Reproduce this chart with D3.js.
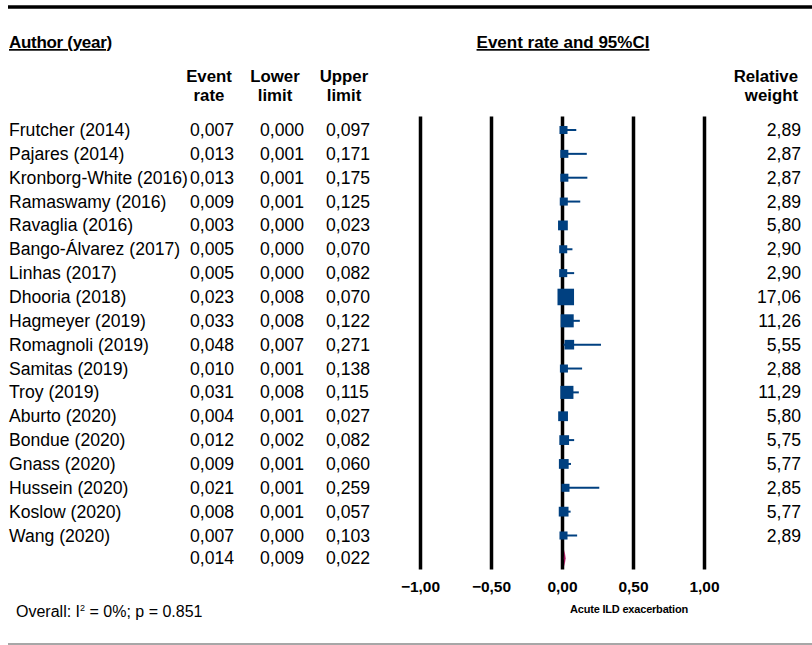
<!DOCTYPE html>
<html>
<head>
<meta charset="utf-8">
<script src="https://cdn.jsdelivr.net/npm/d3@7"></script>
<style>
  body { margin: 0; background: #fff; }
  text { font-family: "Liberation Sans", Arial, sans-serif; fill: #000; }
</style>
</head>
<body>
<div id="forest"></div>
<script>
// study rows
var authors = ["Frutcher (2014)", "Pajares (2014)", "Kronborg-White (2016)", "Ramaswamy (2016)",
  "Ravaglia (2016)", "Bango-Álvarez (2017)", "Linhas (2017)", "Dhooria (2018)", "Hagmeyer (2019)",
  "Romagnoli (2019)", "Samitas (2019)", "Troy (2019)", "Aburto (2020)", "Bondue (2020)",
  "Gnass (2020)", "Hussein (2020)", "Koslow (2020)", "Wang (2020)"];
var eventRate = [0.007, 0.013, 0.013, 0.009, 0.003, 0.005, 0.005, 0.023, 0.033, 0.048, 0.010, 0.031,
  0.004, 0.012, 0.009, 0.021, 0.008, 0.007];
var lowerLimit = [0.000, 0.001, 0.001, 0.001, 0.000, 0.000, 0.000, 0.008, 0.008, 0.007, 0.001, 0.008,
  0.001, 0.002, 0.001, 0.001, 0.001, 0.000];
var upperLimit = [0.097, 0.171, 0.175, 0.125, 0.023, 0.070, 0.082, 0.070, 0.122, 0.271, 0.138, 0.115,
  0.027, 0.082, 0.060, 0.259, 0.057, 0.103];
var relWeight = [2.89, 2.87, 2.87, 2.89, 5.80, 2.90, 2.90, 17.06, 11.26, 5.55, 2.88, 11.29,
  5.80, 5.75, 5.77, 2.85, 5.77, 2.89];
// pooled estimate
var overall = {rate: 0.014, lower: 0.009, upper: 0.022};
var ticks = [-1, -0.5, 0, 0.5, 1];

var width = 812, height = 645;
var fmt3 = function(v) { return d3.format(".3f")(v).replace(".", ","); };
var fmt2 = function(v) { return d3.format(".2f")(v).replace(".", ","); };

var svg = d3.select("#forest").append("svg").attr("width", width).attr("height", height);

var x = d3.scaleLinear().domain([-1, 1]).range([420.5, 704.5]);
var y = d3.scaleLinear().domain([0, 17]).range([130, 535.5]);
var side = d3.scaleLinear().domain([0, 20]).range([6.3, 18.3]);

// frame lines
svg.append("line").attr("x1", 8).attr("x2", 812).attr("y1", 7).attr("y2", 7)
  .attr("stroke", "#000").attr("stroke-width", 3.5);
svg.append("line").attr("x1", 8).attr("x2", 812).attr("y1", 644).attr("y2", 644)
  .attr("stroke", "#8a8a8a").attr("stroke-width", 1.5);

// titles
svg.append("text").attr("x", 9).attr("y", 48).attr("font-size", 17).attr("font-weight", "bold")
  .attr("text-decoration", "underline").attr("letter-spacing", -0.3).text("Author (year)");
svg.append("text").attr("x", 563).attr("y", 48).attr("text-anchor", "middle").attr("font-size", 17)
  .attr("font-weight", "bold").attr("text-decoration", "underline").text("Event rate and 95%CI");

var heads = [[209, "Event", "rate"], [275, "Lower", "limit"], [344, "Upper", "limit"]];
heads.forEach(function(h) {
  var t = svg.append("text").attr("text-anchor", "middle").attr("font-size", 16.8).attr("font-weight", "bold");
  t.append("tspan").attr("x", h[0]).attr("y", 82).text(h[1]);
  t.append("tspan").attr("x", h[0]).attr("y", 101).text(h[2]);
});
var rw = svg.append("text").attr("text-anchor", "end").attr("font-size", 16.8).attr("font-weight", "bold");
rw.append("tspan").attr("x", 798).attr("y", 82).text("Relative");
rw.append("tspan").attr("x", 798).attr("y", 101).text("weight");

// vertical reference lines
svg.append("g").selectAll("line").data(ticks).join("line")
  .attr("x1", d => x(d)).attr("x2", d => x(d))
  .attr("y1", 116.5).attr("y2", 569.5)
  .attr("stroke", "#000").attr("stroke-width", 3.5);

// tick labels
svg.append("g").selectAll("text").data(ticks).join("text")
  .attr("x", d => x(d)).attr("y", 592).attr("text-anchor", "middle")
  .attr("font-size", 15.5).attr("font-weight", "bold")
  .text(fmt2);

svg.append("text").attr("x", 629).attr("y", 613).attr("text-anchor", "middle")
  .attr("font-size", 11).attr("font-weight", "bold").attr("letter-spacing", -0.2)
  .text("Acute ILD exacerbation");

// table text
var rows = svg.append("g").selectAll("g").data(authors).join("g")
  .attr("transform", (d, i) => "translate(0," + (y(i) + 6) + ")")
  .attr("font-size", 17.6);
rows.append("text").attr("x", 9).text(d => d);
rows.append("text").attr("x", 190).text((d, i) => fmt3(eventRate[i]));
rows.append("text").attr("x", 260).text((d, i) => fmt3(lowerLimit[i]));
rows.append("text").attr("x", 326).text((d, i) => fmt3(upperLimit[i]));
rows.append("text").attr("x", 801).attr("text-anchor", "end").text((d, i) => fmt2(relWeight[i]));

// CI lines and squares
var marks = svg.append("g").selectAll("g").data(authors).join("g");
marks.append("line")
  .attr("x1", (d, i) => x(lowerLimit[i])).attr("x2", (d, i) => x(upperLimit[i]))
  .attr("y1", (d, i) => y(i)).attr("y2", (d, i) => y(i))
  .attr("stroke", "#004080").attr("stroke-width", 2);
marks.append("rect")
  .attr("x", (d, i) => x(eventRate[i]) - side(relWeight[i]) / 2)
  .attr("y", (d, i) => y(i) - side(relWeight[i]) / 2)
  .attr("width", (d, i) => side(relWeight[i]))
  .attr("height", (d, i) => side(relWeight[i]))
  .attr("fill", "#004080");

// overall row
var yo = y(18) - 1;
var orow = svg.append("g").attr("transform", "translate(0," + (yo + 6) + ")").attr("font-size", 17.6);
orow.append("text").attr("x", 190).text(fmt3(overall.rate));
orow.append("text").attr("x", 260).text(fmt3(overall.lower));
orow.append("text").attr("x", 326).text(fmt3(overall.upper));
svg.append("path")
  .attr("d", "M" + x(overall.lower) + "," + yo + "L" + x(overall.rate) + "," + (yo - 8.5) +
    "L" + x(overall.upper) + "," + yo + "L" + x(overall.rate) + "," + (yo + 8.5) + "Z")
  .attr("fill", "#a0145a");

// heterogeneity
var ov = svg.append("text").attr("x", 16).attr("y", 617).attr("font-size", 16);
ov.append("tspan").text("Overall: I");
ov.append("tspan").attr("dy", -6).attr("font-size", 9).text("2");
ov.append("tspan").attr("dy", 6).text(" = 0%; p = 0.851");
</script>
</body>
</html>
